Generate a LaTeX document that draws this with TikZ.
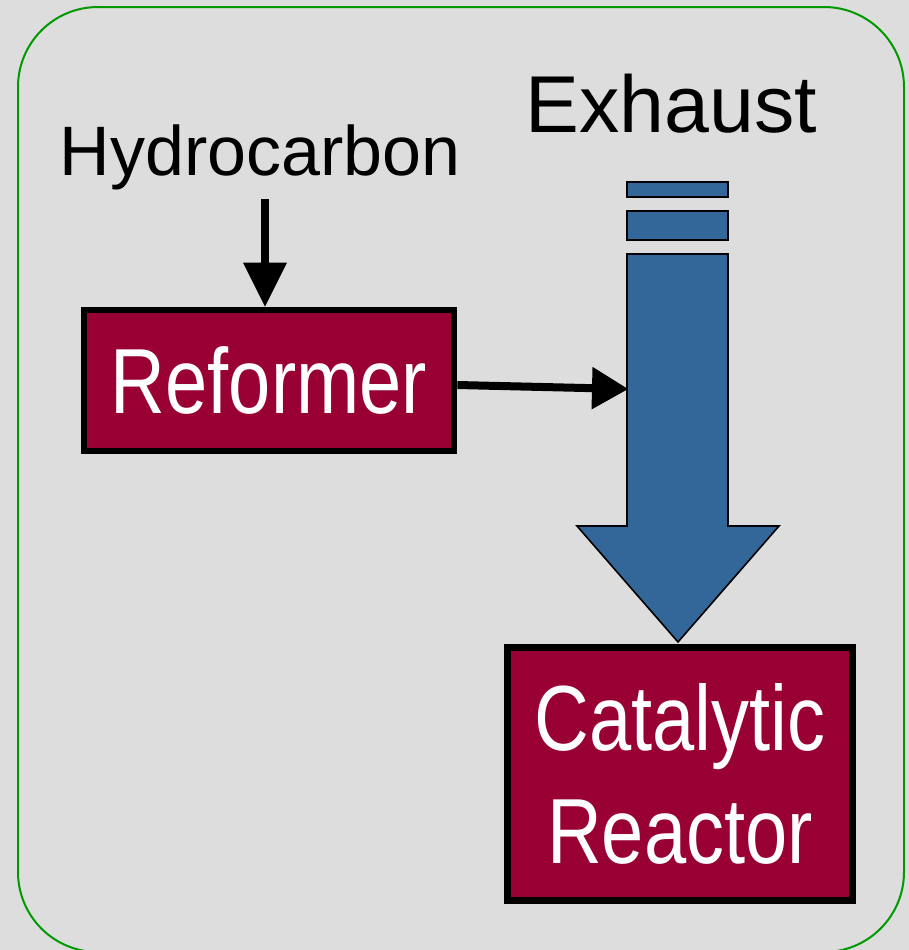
\documentclass[tikz,border=0pt]{standalone}
\usepackage{fontspec}
\setmainfont{Liberation Sans}
\newfontfamily\narrowfont[FakeStretch=0.82]{Liberation Sans}
\usetikzlibrary{arrows.meta}
\definecolor{bgray}{RGB}{221,221,221}
\definecolor{framegreen}{RGB}{0,153,0}
\definecolor{unitred}{RGB}{153,0,51}
\definecolor{steel}{RGB}{51,102,153}
\begin{document}
\begin{tikzpicture}[x=0.75pt,y=-0.75pt,
  unitbox/.style={draw=black, line width=5pt, fill=unitred, text=white, inner sep=0pt,
    font=\narrowfont\fontsize{69.4pt}{84.75pt}\selectfont, align=center},
  plainlabel/.style={text=black, inner sep=0pt, anchor=base},
  pipe/.style={fill=steel, draw=black, line width=1.2pt, line join=miter},
  flowA/.style={line width=6pt, -{Triangle[length=33pt,width=33pt,line width=0pt]}},
  flowB/.style={line width=6pt, -{Triangle[length=27pt,width=32pt,line width=0pt]}},
]
\useasboundingbox (0,0) rectangle (909,950);
\fill[bgray] (0,0) rectangle (909,950);
\draw[framegreen, line width=1.5pt, rounded corners=60pt] (18,7) rectangle (904,952);

% labels
\node[plainlabel, font=\fontsize{52.5pt}{60pt}\selectfont] (hc) at (260,175) {Hydrocarbon};
\node[plainlabel, font=\fontsize{60.5pt}{70pt}\selectfont] (ex) at (671.5,132) {Exhaust};

% units
\node[unitbox, minimum width=277.5pt, minimum height=105.75pt] (ref) at (269,380.5) {Reformer};
\node[unitbox, minimum width=258.75pt, minimum height=189.75pt] (cat) at (680,774) {Catalytic\\Reactor};

% exhaust pipe
\draw[pipe] (627,182) rectangle (728,197);
\draw[pipe] (627,211) rectangle (728,240);
\draw[pipe] (627,254) -- (728,254) -- (728,526) -- (779,526) -- (678,642) -- (577,526) -- (627,526) -- cycle;

% connectors
\coordinate (hcin) at (265,199);
\draw[flowA] (hcin) -- (hcin |- ref.north);
\coordinate (outy) at (0,385);
\coordinate (inlet) at (628,389);
\draw[flowB] (ref.east |- outy) -- (inlet);
\end{tikzpicture}
\end{document}
